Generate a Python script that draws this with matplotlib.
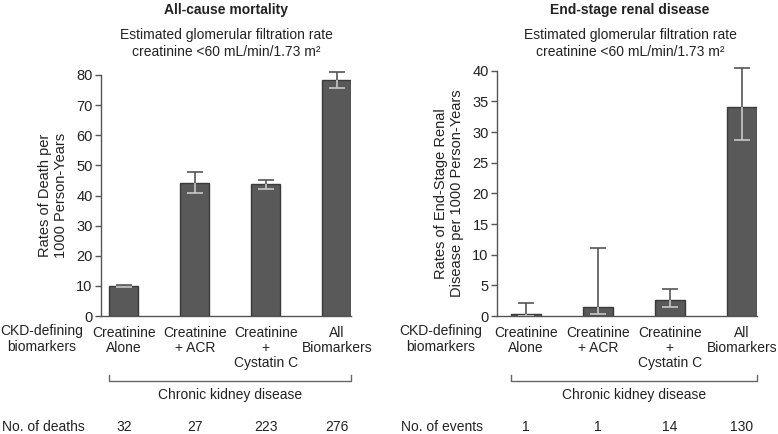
import matplotlib
matplotlib.use('Agg')
import matplotlib.pyplot as plt
import matplotlib.transforms as mtransforms

plt.rcParams['font.family'] = ['Liberation Sans', 'DejaVu Sans']
plt.rcParams['font.size'] = 10

# Données
categories = ['Creatinine\nAlone', 'Creatinine\n+ ACR', 'Creatinine\n+\nCystatin C', 'All\nBiomarkers']

death_rates = [10.0, 44.3, 43.8, 78.3]
death_lower = [9.7, 40.9, 42.3, 75.7]
death_upper = [10.3, 47.9, 45.1, 81.0]
n_deaths = [32, 27, 223, 276]

esrd_rates = [0.4, 1.5, 2.6, 34.1]
esrd_lower = [0.05, 0.3, 1.4, 28.7]
esrd_upper = [2.2, 11.1, 4.4, 40.5]
n_events = [1, 1, 14, 130]

W, H = 778, 434
BAR = '#595959'
EDGE = '#3a3a3a'
TXT = '#222222'
AXC = '#555555'


def fx(px):
    return px / W


def fy(py):
    return 1 - py / H


fig = plt.figure(figsize=(W / 100, H / 100), dpi=100)


def panel(left, top, right, title, ylabel, rates, lower, upper, ymax, yticks,
          xlim, width, count_label, counts, label_x, title_x):
    ax = fig.add_axes([fx(left), fy(316), fx(right - left), (316 - top) / H])
    x = list(range(len(rates)))
    ax.bar(x, rates, width=width, color=BAR, edgecolor=EDGE, linewidth=1, zorder=2)
    cap = 0.11
    for xi, r, lo, up in zip(x, rates, lower, upper):
        # partie au-dessus de la barre (foncée) et à l'intérieur (claire)
        ax.vlines(xi, r, up, color='#555555', lw=1.2, zorder=3, clip_on=False)
        ax.hlines(up, xi - cap, xi + cap, color='#555555', lw=1.2, zorder=3, clip_on=False)
        ax.vlines(xi, lo, r, color='#c8c8c8', lw=1.2, zorder=3)
        ax.hlines(lo, xi - cap, xi + cap, color='#c8c8c8', lw=1.2, zorder=3)
    ax.set_xlim(*xlim)
    ax.set_ylim(0, ymax)
    ax.set_yticks(yticks)
    ax.set_xticks(x)
    ax.set_xticklabels(categories, linespacing=1.1, color=TXT, fontsize=10)
    ax.tick_params(axis='x', length=0, pad=7)
    ax.tick_params(axis='y', length=4, width=1, color=AXC, labelsize=10.5,
                   labelcolor=TXT, pad=2)
    for s in ['top', 'right']:
        ax.spines[s].set_visible(False)
    for s in ['left', 'bottom']:
        ax.spines[s].set_color(AXC)
        ax.spines[s].set_linewidth(1)
    ax.spines['bottom'].set_bounds(xlim[0], x[-1] + width / 2)

    ax.set_ylabel(ylabel, fontsize=10.5, color=TXT, linespacing=1.15, labelpad=6)

    fig.text(fx(title_x), fy(10), title, ha='center', va='center',
             fontsize=10, fontweight='bold', color=TXT)
    fig.text(fx(title_x), fy(35), 'Estimated glomerular filtration rate',
             ha='center', va='center', fontsize=10, color=TXT)
    fig.text(fx(title_x), fy(52), 'creatinine <60 mL/min/1.73 m²',
             ha='center', va='center', fontsize=10, color=TXT)

    fig.text(fx(label_x), fy(339), 'CKD-defining\nbiomarkers', ha='center', va='center',
             fontsize=10, color=TXT, linespacing=1.1)

    trans = mtransforms.blended_transform_factory(ax.transData, fig.transFigure)
    x0, x1 = x[0] - width / 2, x[-1] + width / 2
    ax.plot([x0, x0, x1, x1], [fy(375), fy(381), fy(381), fy(375)], color='#666666',
            lw=1, transform=trans, clip_on=False)
    ax.text((x0 + x1) / 2, fy(395), 'Chronic kidney disease', transform=trans,
            ha='center', va='center', fontsize=10, color=TXT)
    for xi, c in zip(x, counts):
        ax.text(xi, fy(427), str(c), transform=trans, ha='center', va='center',
                fontsize=10, color=TXT)
    fig.text(fx(label_x - 40), fy(427), count_label, ha='left', va='center',
             fontsize=10, color=TXT)
    return ax


panel(101, 75, 351, 'All-cause mortality', 'Rates of Death per\n1000 Person-Years',
      death_rates, death_lower, death_upper, 80, range(0, 81, 10),
      (-0.32, 3.2), 0.41, 'No. of deaths', n_deaths, 42, 226)

panel(497, 70.7, 757, 'End-stage renal disease',
      'Rates of End-Stage Renal\nDisease per 1000 Person-Years',
      esrd_rates, esrd_lower, esrd_upper, 40, range(0, 41, 5),
      (-0.40, 3.21), 0.42, 'No. of events', n_events, 441, 630)

plt.savefig('out.png', dpi=100)
